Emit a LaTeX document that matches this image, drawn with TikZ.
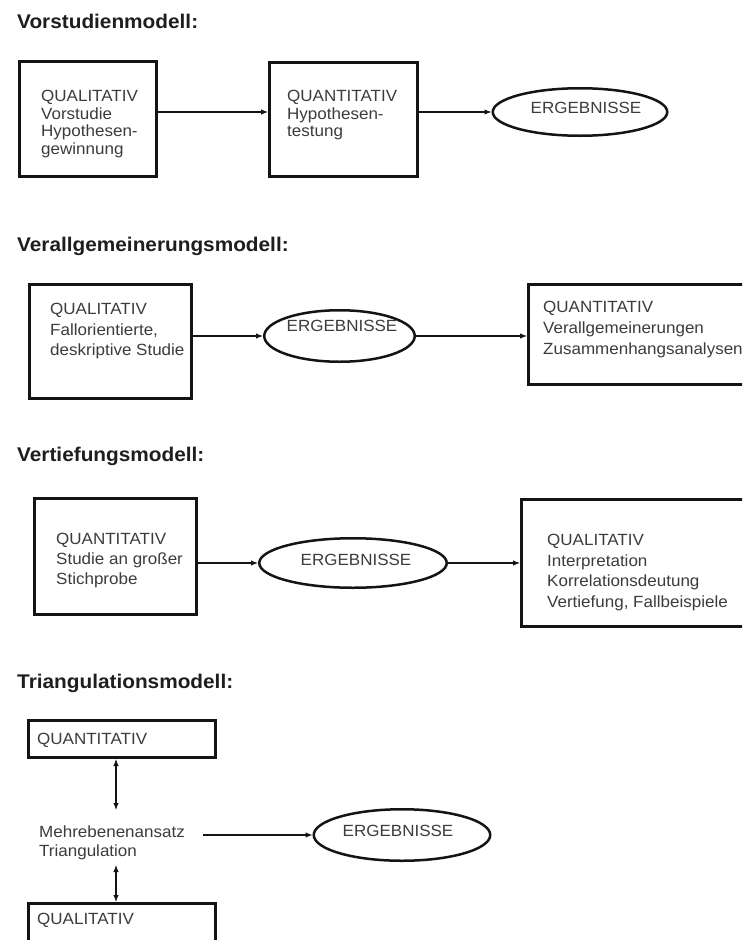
\documentclass[tikz,border=0pt]{standalone}
\usepackage{fontspec}
\setmainfont{Liberation Sans}[FakeStretch=1.05]
\usetikzlibrary{arrows.meta,shapes.geometric}
\definecolor{txt}{HTML}{3C3C3C}
\definecolor{ttlc}{HTML}{1E1E1E}
\definecolor{ln}{HTML}{141414}
\begin{document}
\begin{tikzpicture}[x=1pt,y=-1pt,
 box/.style={draw=ln, line width=3pt, rectangle, inner sep=0pt},
 oval/.style={draw=ln, line width=2.5pt, ellipse, inner sep=0pt},
 body/.style={text=txt, font=\fontsize{16.2}{20.5}\selectfont, align=left, inner sep=0pt, anchor=north west},
 title/.style={text=ttlc, font=\bfseries\fontsize{19.8}{24}\selectfont, anchor=base west, inner sep=0pt},
 arr/.style={draw=ln, line width=1.1pt, -{Latex[length=7pt,width=5.5pt]}},
 darr/.style={draw=ln, line width=1.1pt, {Latex[length=7pt,width=5.5pt]}-{Latex[length=7pt,width=5.5pt]}},
 eltext/.style={text=txt, font=\fontsize{16.2}{20}\selectfont, inner sep=0pt}
]
\clip (0,0) rectangle (742,940);
\fill[white] (0,0) rectangle (742,940);

% ---------- Vorstudienmodell ----------
\node[title] (t1) at (17,28) {Vorstudienmodell:};
\node[box, minimum width=137pt, minimum height=115pt] (b1) at (88,119) {};
\node[body, font=\fontsize{16.2}{17.5}\selectfont] (b1t) at (41,90.4) {QUALITATIV\\Vorstudie\\Hypothesen-\\gewinnung};
\node[box, minimum width=148pt, minimum height=114pt] (b2) at (343.5,119.5) {};
\node[body, font=\fontsize{16.2}{17.5}\selectfont] (b2t) at (287,90.4) {QUANTITATIV\\Hypothesen-\\testung};
\node[oval, minimum width=174.5pt, minimum height=47.5pt,
      label={[eltext, xshift=6pt, yshift=4pt]center:ERGEBNISSE}] (e1) at (580,112) {};
\draw[arr] (b1.east |- e1.west) -- (b2.west |- e1.west);
\draw[arr] (b2.east |- e1.west) -- (e1.west);

% ---------- Verallgemeinerungsmodell ----------
\node[title] (t2) at (17,251) {Verallgemeinerungsmodell:};
\node[box, minimum width=162pt, minimum height=114pt] (a2) at (110.5,341.5) {};
\node[body] (a2t) at (50,303.4) {QUALITATIV\\Fallorientierte,\\deskriptive Studie};
\node[oval, minimum width=150.5pt, minimum height=51.5pt,
      label={[eltext, xshift=2.5pt, yshift=10pt]center:ERGEBNISSE}] (e2) at (339.5,336) {};
\node[box, minimum width=230pt, minimum height=100pt] (c2) at (643.5,334.5) {};
\node[body, font=\fontsize{16.2}{21}\selectfont] (c2t) at (543,301.4) {QUANTITATIV\\Verallgemeinerungen\\Zusammenhangsanalysen};
\draw[arr] (a2.east |- e2.west) -- (e2.west);
\draw[arr] (e2.east) -- (c2.west |- e2.east);

% ---------- Vertiefungsmodell ----------
\node[title] (t3) at (17,461) {Vertiefungsmodell:};
\node[box, minimum width=162pt, minimum height=116pt] (a3) at (115.5,556.5) {};
\node[body, font=\fontsize{16.2}{20}\selectfont] (a3t) at (56,533.4) {QUANTITATIV\\Studie an großer\\Stichprobe};
\node[oval, minimum width=187.5pt, minimum height=49.5pt,
      label={[eltext, xshift=3pt, yshift=3pt]center:ERGEBNISSE}] (e3) at (353,563) {};
\node[box, minimum width=237pt, minimum height=127pt] (c3) at (640,563) {};
\node[body] (c3t) at (547,534.4) {QUALITATIV\\Interpretation\\Korrelationsdeutung\\Vertiefung, Fallbeispiele};
\draw[arr] (a3.east |- e3.west) -- (e3.west);
\draw[arr] (e3.east) -- (c3.west |- e3.east);

% ---------- Triangulationsmodell ----------
\node[title] (t4) at (17,688) {Triangulationsmodell:};
\node[box, minimum width=187pt, minimum height=37pt] (q) at (122,739) {};
\node[body] (qt) at (37,733.4) {QUANTITATIV};
\node[body, font=\fontsize{16.2}{19}\selectfont] (mt) at (39,825.4) {Mehrebenenansatz\\Triangulation};
\node[box, minimum width=187pt, minimum height=55pt] (ql) at (122,931) {};
\node[body] (qlt) at (37,913.4) {QUALITATIV};
\coordinate (m1) at (116,810);
\coordinate (m2) at (116,865);
\node[oval, minimum width=176.5pt, minimum height=51.5pt,
      label={[eltext, xshift=-4pt, yshift=4pt]center:ERGEBNISSE}] (e4) at (402,835) {};
\draw[darr] (q.south -| m1) -- (m1);
\draw[darr] (m2) -- (ql.north -| m2);
\draw[arr, shorten <=18pt] (mt.east |- e4.west) -- (e4.west);
\end{tikzpicture}
\end{document}
